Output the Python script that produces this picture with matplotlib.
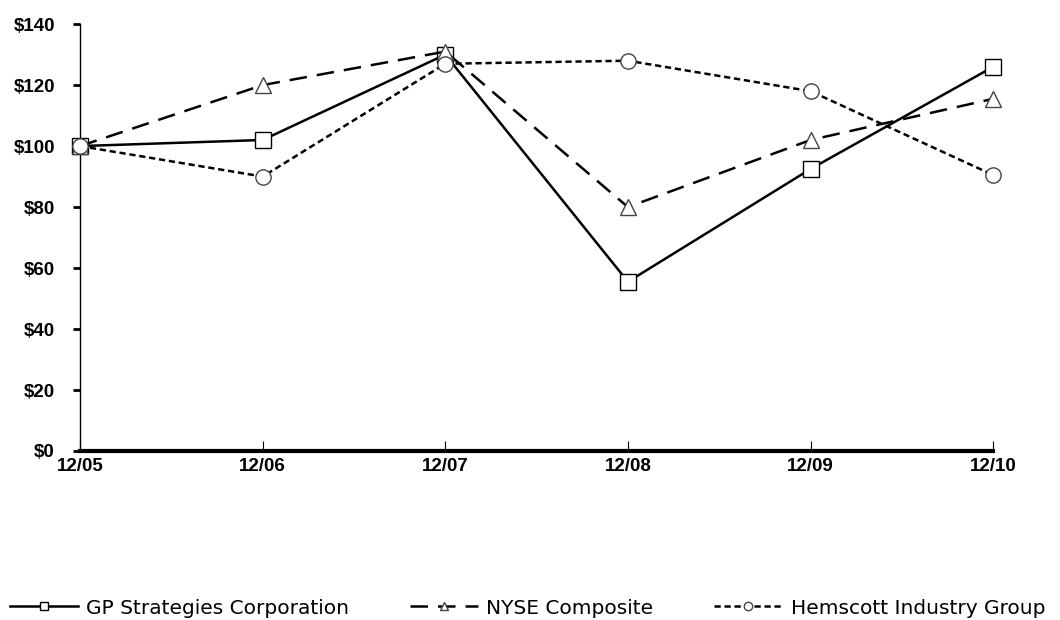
import matplotlib
matplotlib.use("Agg")
import matplotlib.pyplot as plt
from matplotlib.ticker import FuncFormatter

dates = ["12/05", "12/06", "12/07", "12/08", "12/09", "12/10"]
gp = [100, 102, 130, 55.5, 92.5, 126]
nyse = [100, 120, 131, 80, 102, 115.5]
hem = [100, 90, 127, 128, 118, 90.5]
yticks = [0, 20, 40, 60, 80, 100, 120, 140]

fig = plt.figure(figsize=(10.6, 6.2), dpi=100)
ax = fig.add_axes([0.0755, 0.2726, 0.8615, 0.6885])
x = list(range(len(dates)))

ms = 11
l1, = ax.plot(x, gp, color="black", lw=1.8, ls="-", marker="s", ms=ms,
              mfc="white", mec="black", mew=1.0, label="GP Strategies Corporation", zorder=3)
l2, = ax.plot(x, nyse, color="black", lw=1.8, ls=(0, (7, 4)), marker="^", ms=ms,
              mfc="white", mec="#444444", mew=1.0, label="NYSE Composite", zorder=3)
l3, = ax.plot(x, hem, color="black", lw=1.8, ls=(0, (2.5, 1.5)), marker="o", ms=ms,
              mfc="white", mec="#444444", mew=1.0, label="Hemscott Industry Group", zorder=3)

ax.set_xlim(0, len(dates) - 1)
ax.set_ylim(0, 140)
ax.set_yticks(yticks)
ax.yaxis.set_major_formatter(FuncFormatter(lambda v, p: f"${int(v)}"))
ax.set_xticks(x)
ax.set_xticklabels(dates)
for s in ["top", "right"]:
    ax.spines[s].set_visible(False)
ax.spines["bottom"].set_linewidth(3)
ax.spines["left"].set_linewidth(1)
ax.tick_params(axis="y", direction="out", length=5, width=2, pad=13)
ax.tick_params(axis="x", direction="in", length=7, width=0.8, pad=5)
for lab in ax.get_yticklabels() + ax.get_xticklabels():
    lab.set_fontweight("bold")
    lab.set_fontsize(13.5)
    lab.set_family(["Liberation Sans", "DejaVu Sans"])
for l in (l1, l2, l3):
    l.set_clip_on(False)

leg = fig.legend(handles=[l1, l2, l3], loc="center left", ncol=3, frameon=False,
                 bbox_to_anchor=(0.0094, 1 - 608 / 620), borderpad=0, borderaxespad=0,
                 columnspacing=3.0, handlelength=3.4, handletextpad=0.4, markerscale=0.55,
                 prop={"family": ["DejaVu Sans"], "size": 14.5})

fig.savefig("out.png", dpi=100)
